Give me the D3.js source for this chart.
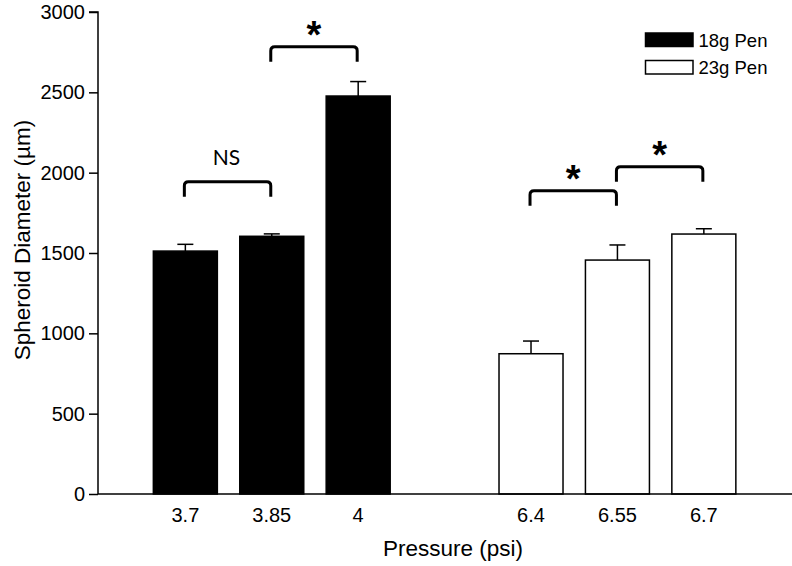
<!DOCTYPE html>
<html>
<head>
<meta charset="utf-8">
<script src="https://cdn.jsdelivr.net/npm/d3@7"></script>
<style>
  html, body { margin: 0; padding: 0; background: #fff; }
  svg text { font-family: "Liberation Sans", Arial, sans-serif; fill: #000; }
</style>
</head>
<body>
<svg id="chart" width="792" height="566"></svg>
<script>
// ---- data ----
const categories = ["3.7", "3.85", "4", "6.4", "6.55", "6.7"];
const groups = ["18g Pen", "18g Pen", "18g Pen", "23g Pen", "23g Pen", "23g Pen"];
const means = [1512, 1604, 2477, 873, 1456, 1618];
const errors = [42, 15, 90, 79, 94, 33];
const seriesNames = ["18g Pen", "23g Pen"];
const seriesFills = ["#000000", "#ffffff"];
const yTicks = [0, 500, 1000, 1500, 2000, 2500, 3000];
// significance brackets: [left category, right category, bracket level (µm), label]
const bracketFrom = ["3.7", "3.85", "6.4", "6.55"];
const bracketTo = ["3.85", "4", "6.55", "6.7"];
const bracketLevel = [1944, 2784, 1888, 2037];
const bracketLabel = ["NS", "*", "*", "*"];

// ---- layout ----
const svg = d3.select("#chart");
const axisX = 98, axisY = 494, topY = 12, rightX = 792;

const domain = ["3.7", "3.85", "4", "gap", "6.4", "6.55", "6.7"];
const x = d3.scaleBand().domain(domain).range([152.6, 736.6]).paddingInner(0.242).paddingOuter(0);
const y = d3.scaleLinear().domain([0, 3000]).range([axisY, topY]);
const color = d3.scaleOrdinal().domain(seriesNames).range(seriesFills);

const data = categories.map((c, i) => ({ cat: c, group: groups[i], mean: means[i], err: errors[i] }));

// bars
svg.append("g").selectAll("rect").data(data).join("rect")
  .attr("x", d => x(d.cat) + 0.75)
  .attr("y", d => y(d.mean))
  .attr("width", x.bandwidth() - 1.5)
  .attr("height", d => axisY - y(d.mean))
  .attr("fill", d => color(d.group))
  .attr("stroke", "#000")
  .attr("stroke-width", 1.5);

// error bars (upper only)
const eb = svg.append("g").attr("stroke", "#000").attr("stroke-width", 1.5);
data.forEach(d => {
  const cx = x(d.cat) + x.bandwidth() / 2;
  eb.append("line").attr("x1", cx).attr("x2", cx).attr("y1", y(d.mean)).attr("y2", y(d.mean + d.err));
  eb.append("line").attr("x1", cx - 8).attr("x2", cx + 8).attr("y1", y(d.mean + d.err)).attr("y2", y(d.mean + d.err));
});

// y axis
const yAxis = d3.axisLeft(y).tickValues(yTicks).tickSize(9).tickPadding(4).tickFormat(d3.format("d"));
const gy = svg.append("g").attr("transform", `translate(${axisX},0)`).call(yAxis);
gy.select(".domain").attr("stroke", "#000").attr("stroke-width", 1.5).attr("d", `M-9,${topY}H0V${axisY}`);
gy.selectAll(".tick line").attr("stroke", "#000").attr("stroke-width", 1.5);
gy.selectAll(".tick text").style("font-size", "20px").attr("font-family", "Liberation Sans, Arial, sans-serif");

// x axis
const xAxis = d3.axisBottom(x).tickSize(0).tickPadding(14).tickFormat(d => d === "gap" ? "" : d);
const gx = svg.append("g").attr("transform", `translate(0,${axisY})`).call(xAxis);
gx.select(".domain").attr("stroke", "#000").attr("stroke-width", 1.5).attr("d", `M${axisX},0H${rightX}`);
gx.selectAll(".tick text").style("font-size", "20px").attr("font-family", "Liberation Sans, Arial, sans-serif");

// axis titles
svg.append("text").attr("x", 453).attr("y", 556).attr("text-anchor", "middle")
  .style("font-size", "22.5px").text("Pressure (psi)");
svg.append("text").attr("transform", `translate(30,240) rotate(-90)`)
  .attr("text-anchor", "middle").style("font-size", "22.5px").text("Spheroid Diameter (µm)");

// significance brackets
const bg = svg.append("g");
bracketFrom.forEach((f, i) => {
  const x1 = x(f) + x.bandwidth() / 2 - 1;
  const x2 = x(bracketTo[i]) + x.bandwidth() / 2 - 1;
  const yl = y(bracketLevel[i]);
  const leg = 15, r = 4;
  bg.append("path")
    .attr("d", `M${x1},${yl + leg}V${yl + r}Q${x1},${yl} ${x1 + r},${yl}H${x2 - r}Q${x2},${yl} ${x2},${yl + r}V${yl + leg}`)
    .attr("fill", "none").attr("stroke", "#000").attr("stroke-width", 3);
  const mx = (x1 + x2) / 2;
  if (bracketLabel[i] === "NS") {
    bg.append("text").attr("x", mx - 1).attr("y", yl - 16.5).attr("text-anchor", "middle")
      .style("font-family", "Lato, 'Open Sans', sans-serif").style("font-size", "21px").text(bracketLabel[i]);
  } else {
    bg.append("text").attr("x", mx).attr("y", yl + 1).attr("text-anchor", "middle")
      .style("font-family", "'Liberation Sans', Arial, sans-serif").style("font-weight", "bold")
      .style("font-size", "38px").text(bracketLabel[i]);
  }
});

// legend
const lg = svg.append("g");
seriesNames.forEach((s, i) => {
  lg.append("rect").attr("x", 645.5).attr("y", 33 + i * 27.5).attr("width", 47.5).attr("height", 13.5)
    .attr("fill", color(s)).attr("stroke", "#000").attr("stroke-width", 1.5);
  lg.append("text").attr("x", 698.5).attr("y", 46.5 + i * 27.5).style("font-size", "18.5px").text(s);
});
</script>
</body>
</html>
